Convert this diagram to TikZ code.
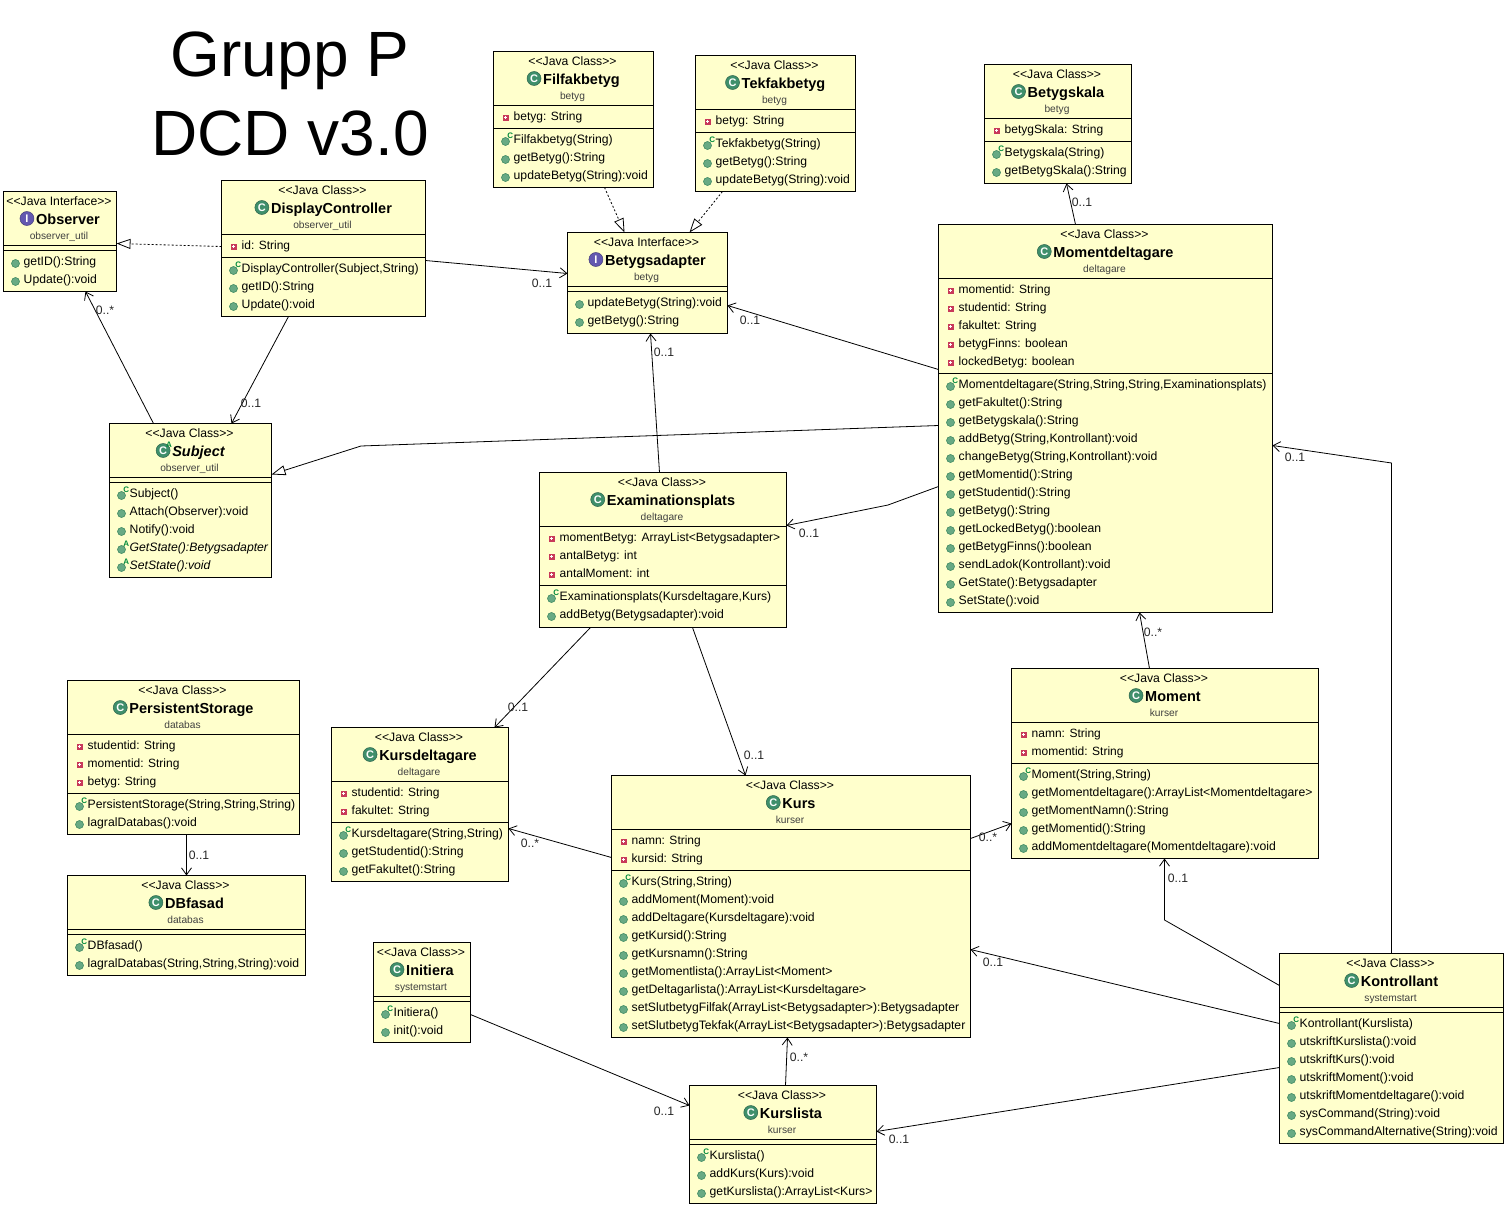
\documentclass[tikz,border=0pt]{standalone}
\usepackage{fontspec}
\usetikzlibrary{calc,arrows.meta}
\newfontfamily\umlfont{Liberation Sans}

\definecolor{boxfill}{HTML}{FFFFCC}
\definecolor{iconC}{HTML}{3F8F6B}
\definecolor{iconI}{HTML}{6358B0}
\definecolor{dotfill}{HTML}{68AA84}
\definecolor{dotline}{HTML}{3E8A62}
\definecolor{markgreen}{HTML}{008A3C}
\definecolor{attrred}{HTML}{C8395A}

\tikzset{
  umlbox/.style={draw,fill=boxfill,line width=1pt,anchor=north west,inner sep=0pt,outer sep=0pt},
  sepline/.style={line width=1pt},
  stereo/.style={anchor=base,inner sep=0pt,font=\umlfont\fontsize{12.2}{14}\selectfont},
  classtitle/.style={anchor=base,inner sep=0pt,font=\umlfont\bfseries\fontsize{14.5}{16}\selectfont},
  pkgname/.style={anchor=base,inner sep=0pt,text=black!75,font=\umlfont\fontsize{10.2}{11}\selectfont},
  classicon/.style={circle,fill=icon#1,draw=icon#1!70!black,line width=.5pt,minimum size=14pt,inner sep=0pt,text=white,
    font=\umlfont\bfseries\fontsize{11}{11}\selectfont},
  rowtext/.style={anchor=base west,inner sep=0pt,font=\umlfont\fontsize{12.2}{14}\selectfont},
  attrtext/.style={anchor=base west,inner sep=0pt,font=\umlfont\fontsize{12}{14}\selectfont},
  opdot/.style={circle,fill=dotfill,draw=dotline,line width=.6pt,minimum size=8pt,inner sep=0pt},
  opmark/.style={inner sep=0pt,text=markgreen,font=\umlfont\bfseries\fontsize{8}{8}\selectfont},
  attrdot/.style={rectangle,fill=attrred,minimum size=6pt,inner sep=0pt,
    path picture={\draw[white,line width=1pt] (path picture bounding box.center) +(-1.5,0) -- +(1.5,0) +(0,-1.5) -- +(0,1.5);}},
  assoc/.style={line width=.8pt,-{Straight Barb[length=7pt,width=10pt]}},
  gener/.style={line width=.8pt,-{Triangle[open,length=14pt,width=10pt]}},
  realize/.style={gener,dash pattern=on 2pt off 2pt},
  mult/.style={inner sep=0pt,text=black!85,font=\umlfont\fontsize{12.2}{14}\selectfont},
  bigtitle/.style={anchor=base,inner sep=0pt,font=\umlfont\fontsize{64}{70}\selectfont},
}

% name, x, y, width, height
\newcommand{\classbox}[5]{
  \node[umlbox,minimum width=#4pt,minimum height=#5pt] (#1) at (#2+.5,#3+.5) {};
}
% name, Class or Interface, icon letter, title, package
\newcommand{\classhead}[5]{
  \node[stereo] (#1-stereo) at ($(#1.north)+(-1,14)$) {<<Java #2>>};
  \node[classtitle] (#1-title) at ($(#1.north)+(8,33)$) {#4};
  \node[classicon=#3] (#1-icon) at ($(#1-title.base west)+(-9,-6)$) {#3};
  \node[pkgname] (#1-pkg) at ($(#1.north)+(-1,48)$) {#5};
  \draw[sepline] ($(#1.north west)+(0,54)$) -- ($(#1.north east)+(0,54)$);
  \gdef\opstop{59}
}
\newcommand{\classattrs}[2]{
  \foreach \txt [count=\row] in {#2} {
    \pgfmathsetmacro\rowy{69+18*(\row-1)}
    \node[attrdot] (#1-attrdot\row) at ($(#1.north west)+(12,\rowy-3)$) {};
    \node[attrtext] (#1-attr\row) at ($(#1.north west)+(20,\rowy)$) {\txt};
    \pgfmathsetmacro\newtop{59+18*\row}
    \global\let\opstop\newtop
  }
}
\newcommand{\classops}[2]{
  \draw[sepline] ($(#1.north west)+(0,\opstop)$) -- ($(#1.north east)+(0,\opstop)$);
  \foreach \mk/\txt [count=\row] in {#2} {
    \pgfmathsetmacro\rowy{\opstop+15+18*(\row-1)}
    \node[opdot] (#1-dot\row) at ($(#1.north west)+(12,\rowy-2)$) {};
    \node[opmark] (#1-mark\row) at ($(#1-dot\row)+(4.7,-5.7)$) {\mk};
    \node[rowtext] (#1-op\row) at ($(#1.north west)+(20,\rowy)$) {\txt};
  }
}

\begin{document}
\begin{tikzpicture}[x=1pt,y=-1pt]
  \useasboundingbox (0,0) rectangle (1507,1207);

  \node[bigtitle] (grupp) at (290,77) {Grupp P};
  \node[bigtitle] (version) at (290,155) {DCD v3.0};

  \classbox{observer}{3}{191}{113}{100}
  \classhead{observer}{Interface}{I}{Observer}{observer\_util}
  \classops{observer}{/getID():String, /Update():void}

  \classbox{display}{221}{180}{204}{136}
  \classhead{display}{Class}{C}{DisplayController}{observer\_util}
  \classattrs{display}{id: String}
  \classops{display}{C/{DisplayController(Subject,String)}, /getID():String, /Update():void}

  \classbox{subject}{109}{423}{162}{154}
  \classhead{subject}{Class}{C}{\itshape Subject}{observer\_util}
  \node[opmark] (subject-abstract) at ($(subject-icon)+(6,-6)$) {A};
  \classops{subject}{C/Subject(), /Attach(Observer):void, /Notify():void,
    A/{\itshape GetState():Betygsadapter}, A/{\itshape SetState():void}}

  \classbox{filfak}{493}{51}{160}{136}
  \classhead{filfak}{Class}{C}{Filfakbetyg}{betyg}
  \classattrs{filfak}{betyg: String}
  \classops{filfak}{C/Filfakbetyg(String), /getBetyg():String, /updateBetyg(String):void}

  \classbox{tekfak}{695}{55}{160}{136}
  \classhead{tekfak}{Class}{C}{Tekfakbetyg}{betyg}
  \classattrs{tekfak}{betyg: String}
  \classops{tekfak}{C/Tekfakbetyg(String), /getBetyg():String, /updateBetyg(String):void}

  \classbox{adapter}{567}{232}{160}{101}
  \classhead{adapter}{Interface}{I}{Betygsadapter}{betyg}
  \classops{adapter}{/updateBetyg(String):void, /getBetyg():String}

  \classbox{skala}{984}{64}{147}{119}
  \classhead{skala}{Class}{C}{Betygskala}{betyg}
  \classattrs{skala}{betygSkala: String}
  \classops{skala}{C/Betygskala(String), /getBetygSkala():String}

  \classbox{deltagare}{938}{224}{334}{388}
  \classhead{deltagare}{Class}{C}{Momentdeltagare}{deltagare}
  \classattrs{deltagare}{momentid: String, studentid: String, fakultet: String, betygFinns: boolean, lockedBetyg: boolean}
  \classops{deltagare}{C/{Momentdeltagare(String,String,String,Examinationsplats)}, /getFakultet():String,
    /getBetygskala():String, /{addBetyg(String,Kontrollant):void}, /{changeBetyg(String,Kontrollant):void},
    /getMomentid():String, /getStudentid():String, /getBetyg():String, /getLockedBetyg():boolean,
    /getBetygFinns():boolean, /sendLadok(Kontrollant):void, /GetState():Betygsadapter, /SetState():void}

  \classbox{exam}{539}{472}{247}{155}
  \classhead{exam}{Class}{C}{Examinationsplats}{deltagare}
  \classattrs{exam}{momentBetyg: ArrayList<Betygsadapter>, antalBetyg: int, antalMoment: int}
  \classops{exam}{C/{Examinationsplats(Kursdeltagare,Kurs)}, /addBetyg(Betygsadapter):void}

  \classbox{moment}{1011}{668}{307}{190}
  \classhead{moment}{Class}{C}{Moment}{kurser}
  \classattrs{moment}{namn: String, momentid: String}
  \classops{moment}{C/{Moment(String,String)}, /getMomentdeltagare():ArrayList<Momentdeltagare>,
    /getMomentNamn():String, /getMomentid():String, /addMomentdeltagare(Momentdeltagare):void}

  \classbox{kurs}{611}{775}{359}{262}
  \classhead{kurs}{Class}{C}{Kurs}{kurser}
  \classattrs{kurs}{namn: String, kursid: String}
  \classops{kurs}{C/{Kurs(String,String)}, /addMoment(Moment):void, /addDeltagare(Kursdeltagare):void,
    /getKursid():String, /getKursnamn():String, /getMomentlista():ArrayList<Moment>,
    /getDeltagarlista():ArrayList<Kursdeltagare>, /setSlutbetygFilfak(ArrayList<Betygsadapter>):Betygsadapter,
    /setSlutbetygTekfak(ArrayList<Betygsadapter>):Betygsadapter}

  \classbox{kdelt}{331}{727}{177}{154}
  \classhead{kdelt}{Class}{C}{Kursdeltagare}{deltagare}
  \classattrs{kdelt}{studentid: String, fakultet: String}
  \classops{kdelt}{C/{Kursdeltagare(String,String)}, /getStudentid():String, /getFakultet():String}

  \classbox{storage}{67}{680}{232}{154}
  \classhead{storage}{Class}{C}{PersistentStorage}{databas}
  \classattrs{storage}{studentid: String, momentid: String, betyg: String}
  \classops{storage}{C/{PersistentStorage(String,String,String)}, /lagralDatabas():void}

  \classbox{dbfasad}{67}{875}{238}{100}
  \classhead{dbfasad}{Class}{C}{DBfasad}{databas}
  \classops{dbfasad}{C/DBfasad(), /{lagralDatabas(String,String,String):void}}

  \classbox{initiera}{373}{942}{97}{100}
  \classhead{initiera}{Class}{C}{Initiera}{systemstart}
  \classops{initiera}{C/Initiera(), /init():void}

  \classbox{lista}{689}{1085}{187}{118}
  \classhead{lista}{Class}{C}{Kurslista}{kurser}
  \classops{lista}{C/Kurslista(), /addKurs(Kurs):void, /getKurslista():ArrayList<Kurs>}

  \classbox{kontroll}{1279}{953}{224}{190}
  \classhead{kontroll}{Class}{C}{Kontrollant}{systemstart}
  \classops{kontroll}{C/Kontrollant(Kurslista), /utskriftKurslista():void, /utskriftKurs():void,
    /utskriftMoment():void, /utskriftMomentdeltagare():void, /sysCommand(String):void,
    /sysCommandAlternative(String):void}

  % free bends of the connectors
  \coordinate (subjbend) at (361,446);
  \coordinate (exambend) at (888,505);
  \coordinate (momentbend) at (1164.5,920);
  \coordinate (kontrbend) at (1391.5,463);

  \draw[realize] ([shift={(0,66)}]display.north west) -- ([shift={(0,52)}]observer.north east);
  \draw[realize] ([shift={(111,0)}]filfak.south west) -- ([shift={(57,0)}]adapter.north west);
  \draw[realize] ([shift={(27,0)}]tekfak.south west) -- ([shift={(122,0)}]adapter.north west);
  \draw[gener] ([shift={(0,201)}]deltagare.north west) -- (subjbend) -- ([shift={(0,51)}]subject.north east);

  \draw[assoc] ([shift={(0,80)}]display.north east) -- ([shift={(0,41)}]adapter.north west);
  \node[mult] (m-dispadapter) at (542,283) {0..1};
  \draw[assoc] ([shift={(44,0)}]subject.north west) -- ([shift={(82,0)}]observer.south west);
  \node[mult] (m-subjobs) at (105,310) {0..*};
  \draw[assoc] ([shift={(67,0)}]display.south west) -- ([shift={(122,0)}]subject.north west);
  \node[mult] (m-dispsubj) at (251,403) {0..1};
  \draw[assoc] ([shift={(137,0)}]deltagare.north west) -- ([shift={(82,0)}]skala.south west);
  \node[mult] (m-delskala) at (1082,202) {0..1};
  \draw[assoc] ([shift={(0,145)}]deltagare.north west) -- ([shift={(0,73)}]adapter.north east);
  \node[mult] (m-deladapter) at (750,320) {0..1};
  \draw[assoc] ([shift={(120,0)}]exam.north west) -- ([shift={(83,0)}]adapter.south west);
  \node[mult] (m-examadapter) at (664,352) {0..1};
  \draw[assoc] ([shift={(0,262)}]deltagare.north west) -- (exambend) -- ([shift={(0,53)}]exam.north east);
  \node[mult] (m-delexam) at (809,533) {0..1};
  \draw[assoc] ([shift={(138,0)}]moment.north west) -- ([shift={(201,0)}]deltagare.south west);
  \node[mult] (m-momdel) at (1153,632) {0..*};
  \draw[assoc] ([shift={(51,0)}]exam.south west) -- ([shift={(163,0)}]kdelt.north west);
  \node[mult] (m-examkdelt) at (518,707) {0..1};
  \draw[assoc] ([shift={(153,0)}]exam.south west) -- ([shift={(134,0)}]kurs.north west);
  \node[mult] (m-examkurs) at (754,755) {0..1};
  \draw[assoc] ([shift={(0,82)}]kurs.north west) -- ([shift={(0,101)}]kdelt.north east);
  \node[mult] (m-kurskdelt) at (530,843) {0..*};
  \draw[assoc] ([shift={(0,63)}]kurs.north east) -- ([shift={(0,155)}]moment.north west);
  \node[mult] (m-kursmom) at (988,837) {0..*};
  \draw[assoc] ([shift={(0,32)}]kontroll.north west) -- (momentbend) -- ([shift={(153,0)}]moment.south west);
  \node[mult] (m-kontrmom) at (1178,878) {0..1};
  \draw[assoc] ([shift={(112,0)}]kontroll.north west) -- (kontrbend) -- ([shift={(0,221)}]deltagare.north east);
  \node[mult] (m-kontrdel) at (1295,457) {0..1};
  \draw[assoc] ([shift={(0,70)}]kontroll.north west) -- ([shift={(0,174)}]kurs.north east);
  \node[mult] (m-kontrkurs) at (993,962) {0..1};
  \draw[assoc] ([shift={(0,114)}]kontroll.north west) -- ([shift={(0,46)}]lista.north east);
  \node[mult] (m-kontrlista) at (899,1139) {0..1};
  \draw[assoc] ([shift={(96,0)}]lista.north west) -- ([shift={(176,0)}]kurs.south west);
  \node[mult] (m-listakurs) at (799,1057) {0..*};
  \draw[assoc] ([shift={(0,72)}]initiera.north east) -- ([shift={(0,20)}]lista.north west);
  \node[mult] (m-initlista) at (664,1111) {0..1};
  \draw[assoc] ([shift={(119,0)}]storage.south west) -- ([shift={(119,0)}]dbfasad.north west);
  \node[mult] (m-storedb) at (199,855) {0..1};
\end{tikzpicture}
\end{document}
